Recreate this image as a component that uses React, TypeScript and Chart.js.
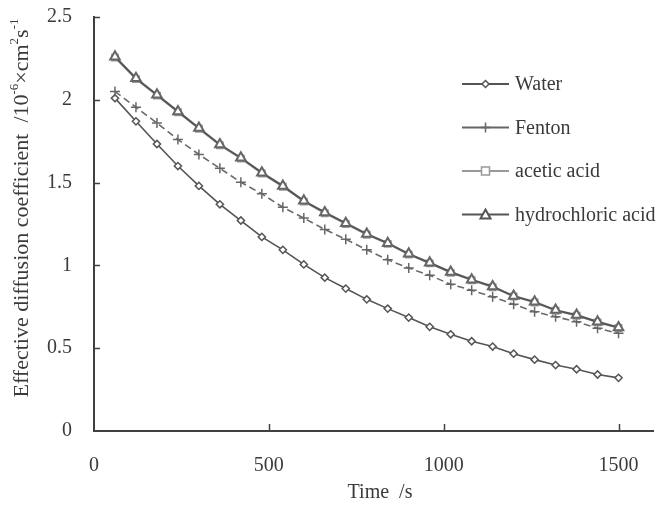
import React, { useEffect, useRef } from 'react';
import { Chart, registerables } from 'chart.js';

Chart.register(...registerables);

const times = [60, 120, 180, 240, 300, 360, 420, 480, 540, 600, 660, 720, 780, 840, 900, 960, 1020, 1080, 1140, 1200, 1260, 1320, 1380, 1440, 1500];
const water = [2.01, 1.87, 1.733, 1.6, 1.48, 1.369, 1.271, 1.172, 1.094, 1.006, 0.926, 0.86, 0.795, 0.739, 0.685, 0.629, 0.584, 0.542, 0.51, 0.467, 0.431, 0.398, 0.373, 0.341, 0.321];
const fenton = [2.05, 1.955, 1.86, 1.76, 1.67, 1.586, 1.502, 1.432, 1.351, 1.286, 1.217, 1.158, 1.094, 1.034, 0.984, 0.94, 0.886, 0.85, 0.81, 0.765, 0.72, 0.69, 0.66, 0.62, 0.59];
const acetic = [2.255, 2.125, 2.025, 1.925, 1.825, 1.725, 1.645, 1.555, 1.475, 1.385, 1.315, 1.25, 1.185, 1.13, 1.065, 1.012, 0.955, 0.91, 0.868, 0.812, 0.776, 0.726, 0.696, 0.656, 0.622];
const hydrochloric = [2.26, 2.13, 2.03, 1.93, 1.83, 1.73, 1.65, 1.56, 1.48, 1.39, 1.32, 1.255, 1.19, 1.134, 1.07, 1.016, 0.96, 0.914, 0.873, 0.815, 0.78, 0.73, 0.7, 0.66, 0.625];
const seriesNames = ['Water', 'Fenton', 'acetic acid', 'hydrochloric acid'];
const xTicks = [0, 500, 1000, 1500];
const yTicks = [0, 0.5, 1, 1.5, 2, 2.5];

const FONT = "'Liberation Serif', 'Times New Roman', serif";
const TEXT = '#3a3a3a';
const AXIS = '#404040';

const legendStyles = [
  { color: '#555555', marker: 'diamond' },
  { color: '#666666', marker: 'cross' },
  { color: '#999999', marker: 'square' },
  { color: '#555555', marker: 'triangle' },
];

function drawMarker(ctx: CanvasRenderingContext2D, kind: string, cx: number, cy: number) {
  ctx.beginPath();
  if (kind === 'diamond') {
    const r = 3.5;
    ctx.moveTo(cx, cy - r); ctx.lineTo(cx + r, cy); ctx.lineTo(cx, cy + r); ctx.lineTo(cx - r, cy); ctx.closePath();
    ctx.fill(); ctx.stroke();
  } else if (kind === 'cross') {
    ctx.moveTo(cx, cy - 5); ctx.lineTo(cx, cy + 5); ctx.moveTo(cx - 5, cy); ctx.lineTo(cx + 5, cy);
    ctx.stroke();
  } else if (kind === 'square') {
    ctx.rect(cx - 4, cy - 4, 8, 8); ctx.fill(); ctx.stroke();
  } else {
    const r = 5;
    ctx.moveTo(cx, cy - r); ctx.lineTo(cx + r, cy + r * 0.8); ctx.lineTo(cx - r, cy + r * 0.8); ctx.closePath();
    ctx.fill(); ctx.stroke();
  }
}

const decorPlugin = {
  id: 'decor',
  afterDraw(chart: any) {
    const { ctx, chartArea } = chart;
    const x = chart.scales.x;
    const y = chart.scales.y;
    ctx.save();
    // inward tick marks
    ctx.strokeStyle = AXIS;
    ctx.lineWidth = 1.5;
    ctx.setLineDash([]);
    xTicks.forEach((v) => {
      if (v === 0) return;
      const px = Math.round(x.getPixelForValue(v)) + 0.5;
      ctx.beginPath(); ctx.moveTo(px, chartArea.bottom); ctx.lineTo(px, chartArea.bottom - 7); ctx.stroke();
    });
    yTicks.forEach((v) => {
      if (v === 0) return;
      const py = Math.round(y.getPixelForValue(v)) + 0.5;
      ctx.beginPath(); ctx.moveTo(chartArea.left, py); ctx.lineTo(chartArea.left + 6, py); ctx.stroke();
    });

    // legend
    const lx0 = 462;
    const lx1 = 509;
    const ly0 = 84;
    const lstep = 43.5;
    seriesNames.forEach((name, i) => {
      const st = legendStyles[i];
      const cy = ly0 + i * lstep;
      ctx.strokeStyle = st.color;
      ctx.fillStyle = '#ffffff';
      ctx.lineWidth = 2;
      ctx.beginPath(); ctx.moveTo(lx0, cy); ctx.lineTo(lx1, cy); ctx.stroke();
      ctx.lineWidth = i === 3 ? 2 : 1.5;
      drawMarker(ctx, st.marker, (lx0 + lx1) / 2, cy);
      ctx.fillStyle = TEXT;
      ctx.font = `20px ${FONT}`;
      ctx.textAlign = 'left';
      ctx.textBaseline = 'middle';
      ctx.fillText(name, lx1 + 6, cy + 1);
    });

    // x title
    ctx.fillStyle = TEXT;
    ctx.font = `20px ${FONT}`;
    ctx.textAlign = 'center';
    ctx.textBaseline = 'middle';
    ctx.fillText('Time  /s', 380, 493);

    // y title with superscripts
    const segs = [
      { t: 'Effective diffusion coefficient  /10', sup: false },
      { t: '-6', sup: true },
      { t: '\u00d7cm', sup: false },
      { t: '2', sup: true },
      { t: 's', sup: false },
      { t: '-1', sup: true },
    ];
    const mainFont = `22px ${FONT}`;
    const supFont = `13px ${FONT}`;
    let total = 0;
    segs.forEach((s) => { ctx.font = s.sup ? supFont : mainFont; total += ctx.measureText(s.t).width; });
    ctx.translate(21, 208);
    ctx.rotate(-Math.PI / 2);
    ctx.textAlign = 'left';
    ctx.textBaseline = 'middle';
    let pos = -total / 2;
    segs.forEach((s) => {
      ctx.font = s.sup ? supFont : mainFont;
      ctx.fillText(s.t, pos, s.sup ? -6 : 1);
      pos += ctx.measureText(s.t).width;
    });
    ctx.restore();
  },
};

export default function App() {
  const ref = useRef<HTMLCanvasElement | null>(null);
  useEffect(() => {
    if (!ref.current) return;
    const mk = (arr: number[]) => times.map((t, i) => ({ x: t, y: arr[i] }));
    const chart = new Chart(ref.current, {
      type: 'line',
      data: {
        datasets: [
          {
            label: seriesNames[0], data: mk(water), borderColor: '#555555', borderWidth: 1.6,
            pointStyle: 'rectRot', pointRadius: 3.6, pointBorderWidth: 1.5, pointBackgroundColor: '#ffffff',
            pointBorderColor: '#555555', order: 3,
          },
          {
            label: seriesNames[1], data: mk(fenton), borderColor: '#6a6a6a', borderWidth: 1.6, borderDash: [7, 4],
            pointStyle: 'cross', pointRadius: 5, pointBorderWidth: 1.5, pointBorderColor: '#666666', order: 2,
          },
          {
            label: seriesNames[2], data: mk(acetic), borderColor: '#999999', borderWidth: 1.6,
            pointStyle: 'rect', pointRadius: 4.5, pointBorderWidth: 1.5, pointBackgroundColor: '#ffffff',
            pointBorderColor: '#999999', order: 1,
          },
          {
            label: seriesNames[3], data: mk(hydrochloric), borderColor: '#555555', borderWidth: 2,
            pointStyle: 'triangle', pointRadius: 5.5, pointBorderWidth: 2, pointBackgroundColor: '#ffffff',
            pointBorderColor: '#666666', order: 0,
          },
        ],
      },
      options: {
        responsive: false,
        animation: false,
        layout: { padding: { top: 17, right: 1, left: 0, bottom: 0 } },
        plugins: { legend: { display: false }, tooltip: { enabled: false } },
        elements: { line: { tension: 0 } },
        scales: {
          x: {
            type: 'linear', min: 0, max: 1600,
            grid: { display: false, drawTicks: false },
            border: { display: true, color: AXIS, width: 2 },
            afterBuildTicks: (s: any) => { s.ticks = xTicks.map((v) => ({ value: v })); },
            afterFit: (s: any) => { s.height = 74; s.paddingLeft = 0; s.paddingRight = 0; s.paddingTop = 0; s.paddingBottom = 0; },
            ticks: {
              color: TEXT, padding: 23, font: { family: FONT, size: 20 },
              callback: (v: any) => String(v), maxRotation: 0, autoSkip: false,
            },
          },
          y: {
            type: 'linear', min: 0, max: 2.5,
            grid: { display: false, drawTicks: false },
            border: { display: true, color: AXIS, width: 2 },
            afterBuildTicks: (s: any) => { s.ticks = yTicks.map((v) => ({ value: v })); },
            afterFit: (s: any) => { s.width = 94; s.paddingLeft = 0; s.paddingRight = 0; s.paddingTop = 0; s.paddingBottom = 0; },
            ticks: {
              color: TEXT, padding: 22, font: { family: FONT, size: 20 },
              callback: (v: any) => String(v),
            },
          },
        },
      },
      plugins: [decorPlugin],
    });
    return () => chart.destroy();
  }, []);
  return (
    <div style={{ position: 'fixed', left: 0, top: 0, width: 661, height: 505, background: '#ffffff' }}>
      <canvas ref={ref} width={661} height={505} style={{ width: 661, height: 505, display: 'block' }} />
    </div>
  );
}
